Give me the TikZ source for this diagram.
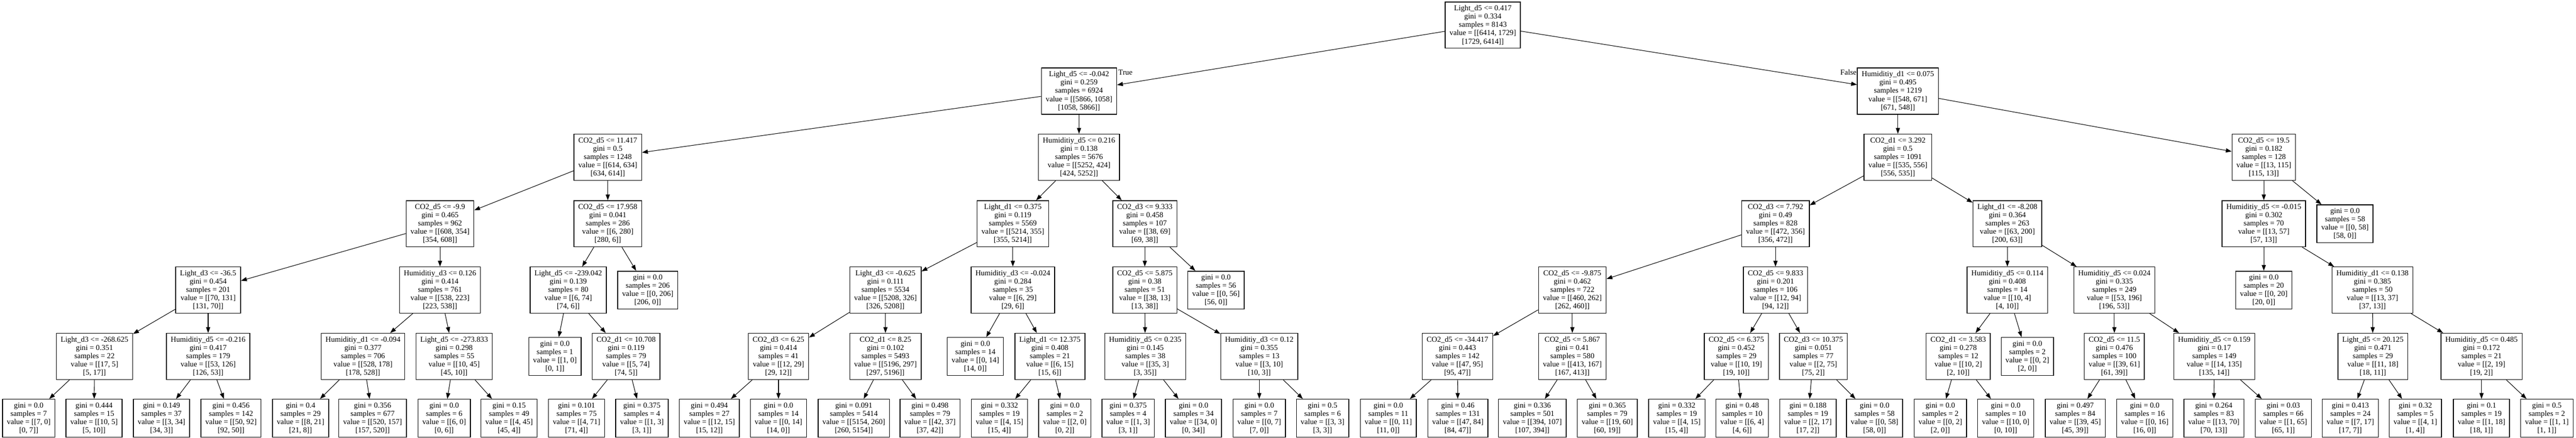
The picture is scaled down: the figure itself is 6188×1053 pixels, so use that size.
\documentclass[tikz,border=0pt]{standalone}
\usepackage{fontspec}
\setmainfont{Liberation Serif}
\usetikzlibrary{arrows.meta}
\tikzset{
  box/.style={draw=black, line width=1.8pt, rectangle, align=center, inner xsep=10.5pt, inner ysep=0pt,
    minimum height=111pt, font=\fontsize{18.3pt}{19.9pt}\selectfont},
  leaf/.style={box, minimum height=91pt},
  edge/.style={line width=1.3pt, -{Triangle[length=14pt,width=10pt]}},
  lbl/.style={inner sep=0pt, font=\fontsize{18.3pt}{19.9pt}\selectfont}
}
\begin{document}
\begin{tikzpicture}[x=1pt,y=-1pt]
\fill[white] (0,0) rectangle (6188,1053);
\useasboundingbox (0,0) rectangle (6188,1053);
% rank 0
\node[box] (n0) at (3562,60.5) {Light\_d5 <= 0.417\\gini = 0.334\\samples = 8143\\value = [[6414, 1729]\\{[}1729, 6414]]};
% rank 1
\node[box] (n1) at (2592,219) {Light\_d5 <= -0.042\\gini = 0.259\\samples = 6924\\value = [[5866, 1058]\\{[}1058, 5866]]};
\node[box] (n2) at (4559,219) {Humiditiy\_d1 <= 0.075\\gini = 0.495\\samples = 1219\\value = [[548, 671]\\{[}671, 548]]};
% rank 2
\node[box] (n3) at (1460,378) {CO2\_d5 <= 11.417\\gini = 0.5\\samples = 1248\\value = [[614, 634]\\{[}634, 614]]};
\node[box] (n4) at (2592,378) {Humiditiy\_d5 <= 0.216\\gini = 0.138\\samples = 5676\\value = [[5252, 424]\\{[}424, 5252]]};
\node[box] (n5) at (4559,378) {CO2\_d1 <= 3.292\\gini = 0.5\\samples = 1091\\value = [[535, 556]\\{[}556, 535]]};
\node[box] (n6) at (5438,378) {CO2\_d5 <= 19.5\\gini = 0.182\\samples = 128\\value = [[13, 115]\\{[}115, 13]]};
% rank 3
\node[box] (n7) at (1057,538) {CO2\_d5 <= -9.9\\gini = 0.465\\samples = 962\\value = [[608, 354]\\{[}354, 608]]};
\node[box] (n8) at (1460,538) {CO2\_d5 <= 17.958\\gini = 0.041\\samples = 286\\value = [[6, 280]\\{[}280, 6]]};
\node[box] (n9) at (2433,538) {Light\_d1 <= 0.375\\gini = 0.119\\samples = 5569\\value = [[5214, 355]\\{[}355, 5214]]};
\node[box] (n10) at (2750,538) {CO2\_d3 <= 9.333\\gini = 0.458\\samples = 107\\value = [[38, 69]\\{[}69, 38]]};
\node[box] (n11) at (4265,538) {CO2\_d3 <= 7.792\\gini = 0.49\\samples = 828\\value = [[472, 356]\\{[}356, 472]]};
\node[box] (n12) at (4822,538) {Light\_d1 <= -8.208\\gini = 0.364\\samples = 263\\value = [[63, 200]\\{[}200, 63]]};
\node[box] (n13) at (5438,538) {Humiditiy\_d5 <= -0.015\\gini = 0.302\\samples = 70\\value = [[13, 57]\\{[}57, 13]]};
\node[leaf] (n14) at (5633,538) {gini = 0.0\\samples = 58\\value = [[0, 58]\\{[}58, 0]]};
% rank 4
\node[box] (n15) at (500,697.5) {Light\_d3 <= -36.5\\gini = 0.454\\samples = 201\\value = [[70, 131]\\{[}131, 70]]};
\node[box] (n16) at (1057,697.5) {Humiditiy\_d3 <= 0.126\\gini = 0.414\\samples = 761\\value = [[538, 223]\\{[}223, 538]]};
\node[box] (n17) at (1365,697.5) {Light\_d5 <= -239.042\\gini = 0.139\\samples = 80\\value = [[6, 74]\\{[}74, 6]]};
\node[leaf] (n18) at (1556,697.5) {gini = 0.0\\samples = 206\\value = [[0, 206]\\{[}206, 0]]};
\node[box] (n19) at (2127,697.5) {Light\_d3 <= -0.625\\gini = 0.111\\samples = 5534\\value = [[5208, 326]\\{[}326, 5208]]};
\node[box] (n20) at (2433,697.5) {Humiditiy\_d3 <= -0.024\\gini = 0.284\\samples = 35\\value = [[6, 29]\\{[}29, 6]]};
\node[box] (n21) at (2750,697.5) {CO2\_d5 <= 5.875\\gini = 0.38\\samples = 51\\value = [[38, 13]\\{[}13, 38]]};
\node[leaf] (n22) at (2921,697.5) {gini = 0.0\\samples = 56\\value = [[0, 56]\\{[}56, 0]]};
\node[box] (n23) at (3777,697.5) {CO2\_d5 <= -9.875\\gini = 0.462\\samples = 722\\value = [[460, 262]\\{[}262, 460]]};
\node[box] (n24) at (4265,697.5) {CO2\_d5 <= 9.833\\gini = 0.201\\samples = 106\\value = [[12, 94]\\{[}94, 12]]};
\node[box] (n25) at (4822,697.5) {Humiditiy\_d5 <= 0.114\\gini = 0.408\\samples = 14\\value = [[10, 4]\\{[}4, 10]]};
\node[box] (n26) at (5079,697.5) {Humiditiy\_d5 <= 0.024\\gini = 0.335\\samples = 249\\value = [[53, 196]\\{[}196, 53]]};
\node[leaf] (n27) at (5438,697.5) {gini = 0.0\\samples = 20\\value = [[0, 20]\\{[}20, 0]]};
\node[box] (n28) at (5699,697.5) {Humiditiy\_d1 <= 0.138\\gini = 0.385\\samples = 50\\value = [[13, 37]\\{[}37, 13]]};
% rank 5
\node[box] (n29) at (227,857) {Light\_d3 <= -268.625\\gini = 0.351\\samples = 22\\value = [[17, 5]\\{[}5, 17]]};
\node[box] (n30) at (500,857) {Humiditiy\_d5 <= -0.216\\gini = 0.417\\samples = 179\\value = [[53, 126]\\{[}126, 53]]};
\node[box] (n31) at (872,857) {Humiditiy\_d1 <= -0.094\\gini = 0.377\\samples = 706\\value = [[528, 178]\\{[}178, 528]]};
\node[box] (n32) at (1091,857) {Light\_d5 <= -273.833\\gini = 0.298\\samples = 55\\value = [[10, 45]\\{[}45, 10]]};
\node[leaf] (n33) at (1333,857) {gini = 0.0\\samples = 1\\value = [[1, 0]\\{[}0, 1]]};
\node[box] (n34) at (1504,857) {CO2\_d1 <= 10.708\\gini = 0.119\\samples = 79\\value = [[5, 74]\\{[}74, 5]]};
\node[box] (n35) at (1870,857) {CO2\_d3 <= 6.25\\gini = 0.414\\samples = 41\\value = [[12, 29]\\{[}29, 12]]};
\node[box] (n36) at (2127,857) {CO2\_d1 <= 8.25\\gini = 0.102\\samples = 5493\\value = [[5196, 297]\\{[}297, 5196]]};
\node[leaf] (n37) at (2343,857) {gini = 0.0\\samples = 14\\value = [[0, 14]\\{[}14, 0]]};
\node[box] (n38) at (2522,857) {Light\_d1 <= 12.375\\gini = 0.408\\samples = 21\\value = [[6, 15]\\{[}15, 6]]};
\node[box] (n39) at (2751,857) {Humiditiy\_d5 <= 0.235\\gini = 0.145\\samples = 38\\value = [[35, 3]\\{[}3, 35]]};
\node[box] (n40) at (3025,857) {Humiditiy\_d3 <= 0.12\\gini = 0.355\\samples = 13\\value = [[3, 10]\\{[}10, 3]]};
\node[box] (n41) at (3501,857) {CO2\_d5 <= -34.417\\gini = 0.443\\samples = 142\\value = [[47, 95]\\{[}95, 47]]};
\node[box] (n42) at (3777,857) {CO2\_d5 <= 5.867\\gini = 0.41\\samples = 580\\value = [[413, 167]\\{[}167, 413]]};
\node[box] (n43) at (4171,857) {CO2\_d5 <= 6.375\\gini = 0.452\\samples = 29\\value = [[10, 19]\\{[}19, 10]]};
\node[box] (n44) at (4356,857) {CO2\_d3 <= 10.375\\gini = 0.051\\samples = 77\\value = [[2, 75]\\{[}75, 2]]};
\node[box] (n45) at (4704,857) {CO2\_d1 <= 3.583\\gini = 0.278\\samples = 12\\value = [[10, 2]\\{[}2, 10]]};
\node[leaf] (n46) at (4870,857) {gini = 0.0\\samples = 2\\value = [[0, 2]\\{[}2, 0]]};
\node[box] (n47) at (5079,857) {CO2\_d5 <= 11.5\\gini = 0.476\\samples = 100\\value = [[39, 61]\\{[}61, 39]]};
\node[box] (n48) at (5319,857) {Humiditiy\_d5 <= 0.159\\gini = 0.17\\samples = 149\\value = [[14, 135]\\{[}135, 14]]};
\node[box] (n49) at (5700,857) {Light\_d5 <= 20.125\\gini = 0.471\\samples = 29\\value = [[11, 18]\\{[}18, 11]]};
\node[box] (n50) at (5961,857) {Humiditiy\_d5 <= 0.485\\gini = 0.172\\samples = 21\\value = [[2, 19]\\{[}19, 2]]};
% rank 6 leaves
\node[leaf] (L1) at (69,1005.5) {gini = 0.0\\samples = 7\\value = [[7, 0]\\{[}0, 7]]};
\node[leaf] (L2) at (226,1005.5) {gini = 0.444\\samples = 15\\value = [[10, 5]\\{[}5, 10]]};
\node[leaf] (L3) at (388,1005.5) {gini = 0.149\\samples = 37\\value = [[3, 34]\\{[}34, 3]]};
\node[leaf] (L4) at (555,1005.5) {gini = 0.456\\samples = 142\\value = [[50, 92]\\{[}92, 50]]};
\node[leaf] (L5) at (722,1005.5) {gini = 0.4\\samples = 29\\value = [[8, 21]\\{[}21, 8]]};
\node[leaf] (L6) at (895,1005.5) {gini = 0.356\\samples = 677\\value = [[520, 157]\\{[}157, 520]]};
\node[leaf] (L7) at (1067,1005.5) {gini = 0.0\\samples = 6\\value = [[6, 0]\\{[}0, 6]]};
\node[leaf] (L8) at (1223,1005.5) {gini = 0.15\\samples = 49\\value = [[4, 45]\\{[}45, 4]]};
\node[leaf] (L9) at (1385,1005.5) {gini = 0.101\\samples = 75\\value = [[4, 71]\\{[}71, 4]]};
\node[leaf] (L10) at (1542,1005.5) {gini = 0.375\\samples = 4\\value = [[1, 3]\\{[}3, 1]]};
\node[leaf] (L11) at (1704,1005.5) {gini = 0.494\\samples = 27\\value = [[12, 15]\\{[}15, 12]]};
\node[leaf] (L12) at (1870,1005.5) {gini = 0.0\\samples = 14\\value = [[0, 14]\\{[}14, 0]]};
\node[leaf] (L13) at (2051,1005.5) {gini = 0.091\\samples = 5414\\value = [[5154, 260]\\{[}260, 5154]]};
\node[leaf] (L14) at (2234,1005.5) {gini = 0.498\\samples = 79\\value = [[42, 37]\\{[}37, 42]]};
\node[leaf] (L15) at (2401,1005.5) {gini = 0.332\\samples = 19\\value = [[4, 15]\\{[}15, 4]]};
\node[leaf] (L16) at (2558,1005.5) {gini = 0.0\\samples = 2\\value = [[2, 0]\\{[}0, 2]]};
\node[leaf] (L17) at (2710,1005.5) {gini = 0.375\\samples = 4\\value = [[1, 3]\\{[}3, 1]]};
\node[leaf] (L18) at (2867,1005.5) {gini = 0.0\\samples = 34\\value = [[34, 0]\\{[}0, 34]]};
\node[leaf] (L19) at (3025,1005.5) {gini = 0.0\\samples = 7\\value = [[0, 7]\\{[}7, 0]]};
\node[leaf] (L20) at (3177,1005.5) {gini = 0.5\\samples = 6\\value = [[3, 3]\\{[}3, 3]]};
\node[leaf] (L21) at (3335,1005.5) {gini = 0.0\\samples = 11\\value = [[0, 11]\\{[}11, 0]]};
\node[leaf] (L22) at (3502,1005.5) {gini = 0.46\\samples = 131\\value = [[47, 84]\\{[}84, 47]]};
\node[leaf] (L23) at (3681,1005.5) {gini = 0.336\\samples = 501\\value = [[394, 107]\\{[}107, 394]]};
\node[leaf] (L24) at (3861,1005.5) {gini = 0.365\\samples = 79\\value = [[19, 60]\\{[}60, 19]]};
\node[leaf] (L25) at (4028,1005.5) {gini = 0.332\\samples = 19\\value = [[4, 15]\\{[}15, 4]]};
\node[leaf] (L26) at (4185,1005.5) {gini = 0.48\\samples = 10\\value = [[6, 4]\\{[}4, 6]]};
\node[leaf] (L27) at (4343,1005.5) {gini = 0.188\\samples = 19\\value = [[2, 17]\\{[}17, 2]]};
\node[leaf] (L28) at (4503,1005.5) {gini = 0.0\\samples = 58\\value = [[0, 58]\\{[}58, 0]]};
\node[leaf] (L29) at (4661,1005.5) {gini = 0.0\\samples = 2\\value = [[0, 2]\\{[}2, 0]]};
\node[leaf] (L30) at (4818,1005.5) {gini = 0.0\\samples = 10\\value = [[10, 0]\\{[}0, 10]]};
\node[leaf] (L31) at (4985,1005.5) {gini = 0.497\\samples = 84\\value = [[39, 45]\\{[}45, 39]]};
\node[leaf] (L32) at (5152,1005.5) {gini = 0.0\\samples = 16\\value = [[0, 16]\\{[}16, 0]]};
\node[leaf] (L33) at (5318,1005.5) {gini = 0.264\\samples = 83\\value = [[13, 70]\\{[}70, 13]]};
\node[leaf] (L34) at (5485,1005.5) {gini = 0.03\\samples = 66\\value = [[1, 65]\\{[}65, 1]]};
\node[leaf] (L35) at (5646,1005.5) {gini = 0.413\\samples = 24\\value = [[7, 17]\\{[}17, 7]]};
\node[leaf] (L36) at (5802,1005.5) {gini = 0.32\\samples = 5\\value = [[4, 1]\\{[}1, 4]]};
\node[leaf] (L37) at (5961,1005.5) {gini = 0.1\\samples = 19\\value = [[1, 18]\\{[}18, 1]]};
\node[leaf] (L38) at (6118,1005.5) {gini = 0.5\\samples = 2\\value = [[1, 1]\\{[}1, 1]]};
% edge labels
\node[lbl, anchor=north west] (tl) at ([xshift=3pt,yshift=-5pt]n1.north east) {True};
\node[lbl, anchor=north east] (fl) at ([xshift=-1pt,yshift=-5pt]n2.north west) {False};
% edges
\foreach \p/\c in {n0/n1,n0/n2,n1/n3,n1/n4,n2/n5,n2/n6,n3/n7,n3/n8,n4/n9,n4/n10,n5/n11,n5/n12,n6/n13,n6/n14,
  n7/n15,n7/n16,n8/n17,n8/n18,n9/n19,n9/n20,n10/n21,n10/n22,n11/n23,n11/n24,n12/n25,n12/n26,n13/n27,n13/n28,
  n15/n29,n15/n30,n16/n31,n16/n32,n17/n33,n17/n34,n19/n35,n19/n36,n20/n37,n20/n38,n21/n39,n21/n40,
  n23/n41,n23/n42,n24/n43,n24/n44,n25/n45,n25/n46,n26/n47,n26/n48,n28/n49,n28/n50,
  n29/L1,n29/L2,n30/L3,n30/L4,n31/L5,n31/L6,n32/L7,n32/L8,n34/L9,n34/L10,n35/L11,n35/L12,n36/L13,n36/L14,
  n38/L15,n38/L16,n39/L17,n39/L18,n40/L19,n40/L20,n41/L21,n41/L22,n42/L23,n42/L24,n43/L25,n43/L26,
  n44/L27,n44/L28,n45/L29,n45/L30,n47/L31,n47/L32,n48/L33,n48/L34,n49/L35,n49/L36,n50/L37,n50/L38}
  \draw[edge] (\p) -- (\c);
\end{tikzpicture}
\end{document}
